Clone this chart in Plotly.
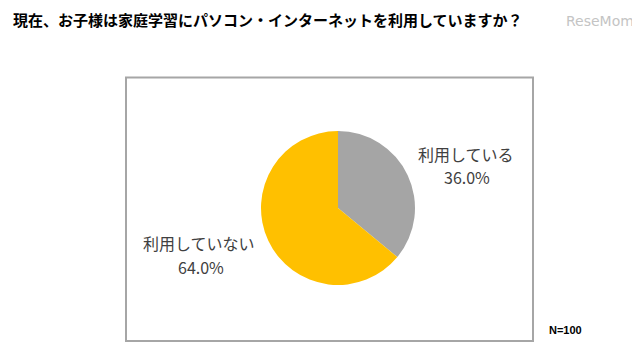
import plotly.graph_objects as go

title_text = "現在、お子様は家庭学習にパソコン・インターネットを利用していますか？"
categories = ["利用している", "利用していない"]
values = [36.0, 64.0]
colors = ["#a5a5a5", "#ffc000"]
sample_note = "N=100"
logo_text = "ReseMom"

W, H = 640, 357

def px(x):
    return x / W

def py(y):
    return 1 - y / H

cx, cy, r = 330, 200, 77

fig = go.Figure(go.Pie(
    labels=categories,
    values=values,
    marker=dict(colors=colors, line=dict(width=0)),
    sort=False,
    direction="clockwise",
    rotation=0,
    textinfo="none",
    hoverinfo="label+percent",
    showlegend=False,
    domain=dict(x=[px(cx - r), px(cx + r)], y=[py(cy + r), py(cy - r)]),
))

label_font = dict(family="Noto Sans CJK JP", size=16, color="#404040")
label_pos = [((458, 146), (459, 169)), ((191, 235), (193, 259))]
annotations = []
for cat, v, (p1, p2) in zip(categories, values, label_pos):
    annotations.append(dict(x=px(p1[0]), y=py(p1[1]), xref="paper", yref="paper",
                            text=cat, showarrow=False, font=label_font,
                            xanchor="center", yanchor="middle"))
    annotations.append(dict(x=px(p2[0]), y=py(p2[1]), xref="paper", yref="paper",
                            text=f"{v:.1f}%", showarrow=False, font=label_font,
                            xanchor="center", yanchor="middle"))

annotations.append(dict(x=px(3), y=py(12), xref="paper", yref="paper",
                        text=f"<b>{title_text}</b>", showarrow=False,
                        font=dict(family="Noto Sans CJK JP", size=15, color="#000000"),
                        xanchor="left", yanchor="middle"))
annotations.append(dict(x=px(539), y=py(322), xref="paper", yref="paper",
                        text=f"<b>{sample_note}</b>", showarrow=False,
                        font=dict(family="Liberation Sans", size=11, color="#000000"),
                        xanchor="left", yanchor="middle"))
annotations.append(dict(x=px(556), y=py(13), xref="paper", yref="paper",
                        text=logo_text, showarrow=False,
                        font=dict(family="DejaVu Sans ExtraLight, DejaVu Sans", size=14, color="#c4c4c4"),
                        xanchor="left", yanchor="middle"))

fig.update_layout(
    width=W, height=H,
    margin=dict(l=0, r=0, t=0, b=0),
    paper_bgcolor="white",
    plot_bgcolor="white",
    annotations=annotations,
    shapes=[dict(type="rect", xref="paper", yref="paper",
                 x0=px(118), x1=px(525), y0=py(333), y1=py(69.5),
                 line=dict(color="#a6a6a6", width=2), fillcolor="rgba(0,0,0,0)")],
)

fig.write_html("out.html")
